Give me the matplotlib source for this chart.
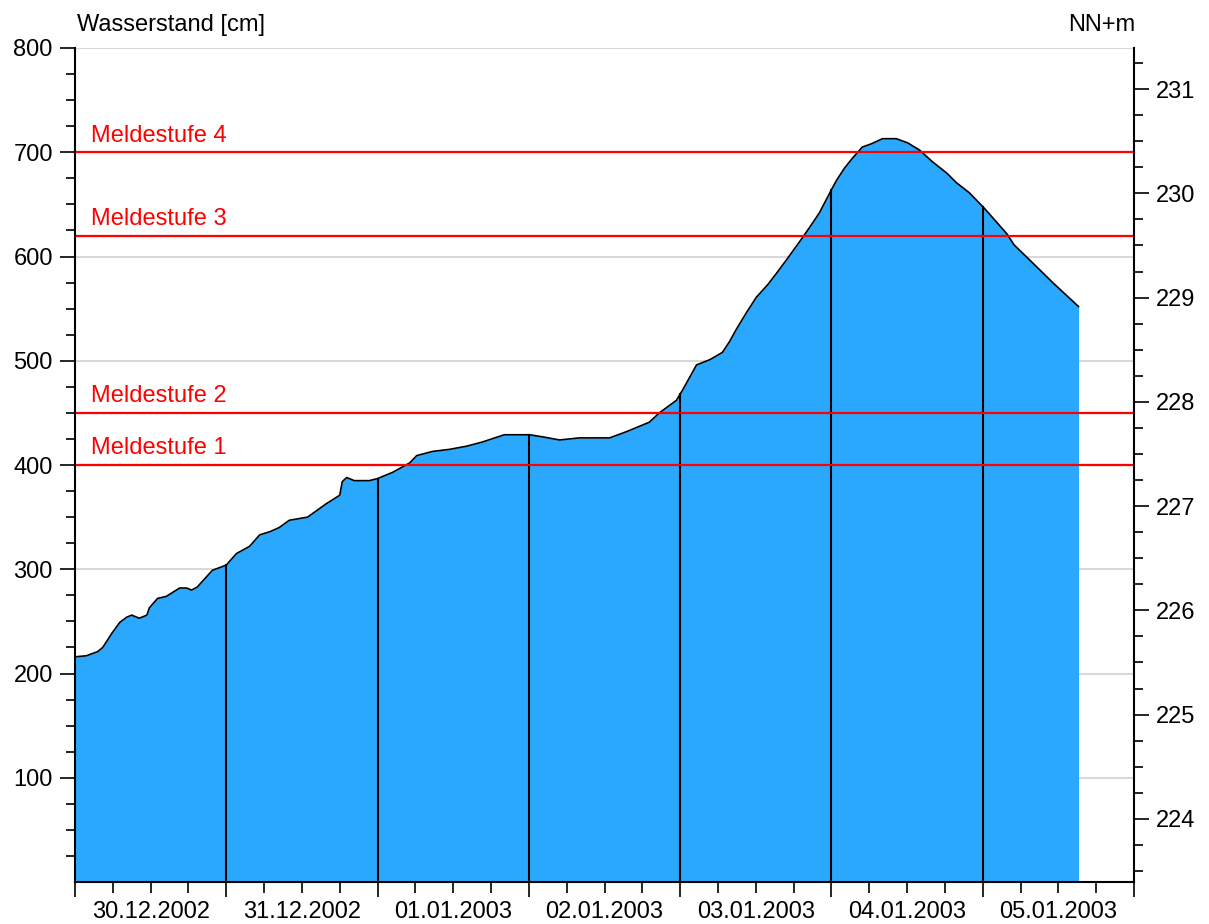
import numpy as np
import matplotlib
matplotlib.use("Agg")
import matplotlib.pyplot as plt

plt.rcParams['font.family'] = ['Liberation Sans', 'DejaVu Sans']

# Stunden ab 30.12.2002 00:00 und Wasserstand in cm
stunden = [0, 1.8, 3.6, 4.4, 5.9, 7.1, 8.2, 9.0, 10.2, 11.4, 11.8, 13.1, 14.5,
           16.6, 17.7, 18.5, 19.4, 21.8, 24.0, 25.6, 27.7, 29.3, 30.9, 32.4,
           34.0, 36.9, 39.9, 42.0, 42.4, 43.1, 44.3, 46.7, 48.0, 50.4, 53.1,
           54.2, 56.7, 59.4, 62.1, 64.6, 68.1, 72.1, 74.2, 76.9, 80.0, 84.8,
           87.5, 91.1, 92.7, 95.4, 96.4, 97.5, 98.6, 100.7, 102.7, 103.8,
           104.9, 106.5, 108.1, 109.9, 111.3, 112.9, 115.4, 117.0, 118.1,
           120.0, 120.8, 122.1, 123.3, 124.9, 126.3, 128.1, 130.3, 132.1,
           134.0, 136.0, 138.3, 139.8, 141.9, 143.5, 144.3, 147.8, 149.0,
           151.9, 155.1, 159.2]
wasserstand = [216, 217, 221, 225, 239, 249, 254, 256, 253, 256, 263, 272, 274,
               282, 282, 280, 283, 299, 304, 315, 322, 333, 336, 340,
               347, 350, 363, 371, 384, 388, 385, 385, 387, 393, 402,
               409, 413, 415, 418, 422, 429, 429, 427, 424, 426, 426,
               432, 441, 450, 462, 472, 484, 496, 501, 508, 518,
               530, 546, 561, 573, 584, 597, 618, 632, 642,
               664, 673, 685, 694, 705, 708, 713, 713, 709,
               702, 691, 680, 671, 661, 651, 646, 622, 611,
               594, 575, 552]

tage = ['30.12.2002', '31.12.2002', '01.01.2003', '02.01.2003',
        '03.01.2003', '04.01.2003', '05.01.2003']
meldestufen = [400, 450, 620, 700]
meldestufen_namen = ['Meldestufe 1', 'Meldestufe 2', 'Meldestufe 3', 'Meldestufe 4']
pegelnull = 223.394  # NN+m

t = np.array(stunden)
w = np.array(wasserstand)

fig = plt.figure(figsize=(12.09, 9.24), dpi=100)
ax = fig.add_axes([75/1209, 1-882/924, (1134-75)/1209, (882-48)/924])

fs = 17
blau = '#2AA8FE'

# Gitter
for g in range(100, 801, 100):
    ax.axhline(g, color='#d8d8d8', lw=1.5, zorder=1)

ax.fill_between(t, w, 0, color=blau, lw=0, zorder=2)
ax.plot(t, w, color='black', lw=1.2, zorder=3)

# Tagesgrenzen bis zur Kurve
for d in range(1, 7):
    h = d * 24
    if h <= t[-1]:
        ax.plot([h, h], [0, np.interp(h, t, w)], color='black', lw=1.5, zorder=3)

for lvl, name in zip(meldestufen, meldestufen_namen):
    ax.axhline(lvl, color='#ff0000', lw=1.6, zorder=4)
    ax.annotate(name, xy=(2.6, lvl), xytext=(0, 4), textcoords='offset points',
                color='#ff0000', fontsize=fs, ha='left', va='bottom')

ax.set_xlim(0, 168)
ax.set_ylim(0, 800)

ax.spines['top'].set_visible(False)
for s in ['left', 'right', 'bottom']:
    ax.spines[s].set_linewidth(1.5)
    ax.spines[s].set_zorder(5)

ax.set_yticks(range(100, 801, 100))
ax.set_yticks(np.arange(25, 800, 25), minor=True)
ax.tick_params(axis='y', which='major', length=11, width=1.2, labelsize=fs, pad=5)
ax.tick_params(axis='y', which='minor', length=6.5, width=1.2)

ax.set_xticks(np.arange(0, 169, 24))
ax.set_xticklabels([''] * 8)
minor_x = [h for h in range(6, 168, 6) if h % 24 != 0]
ax.set_xticks(minor_x, minor=True)
ax.set_xticklabels([tage[h // 24] if h % 24 == 12 else '' for h in minor_x], minor=True)
ax.tick_params(axis='x', which='major', length=11, width=1.2)
ax.tick_params(axis='x', which='minor', length=8, width=1.2, labelsize=fs, pad=6)

ax2 = ax.twinx()
ax2.set_ylim(pegelnull, pegelnull + 8)
ax2.set_yticks(range(224, 232))
ax2.set_yticks(np.arange(223.5, 231.5, 0.25), minor=True)
ax2.tick_params(axis='y', which='major', length=11, width=1.2, labelsize=fs, pad=5)
ax2.tick_params(axis='y', which='minor', length=6.5, width=1.2)
for s in ['top', 'left', 'bottom', 'right']:
    ax2.spines[s].set_visible(False)

fig.text(77/1209, 1-25/924, 'Wasserstand [cm]', fontsize=fs, ha='left', va='center')
fig.text(1135/1209, 1-25/924, 'NN+m', fontsize=fs, ha='right', va='center')

fig.savefig('out.png', dpi=100)
